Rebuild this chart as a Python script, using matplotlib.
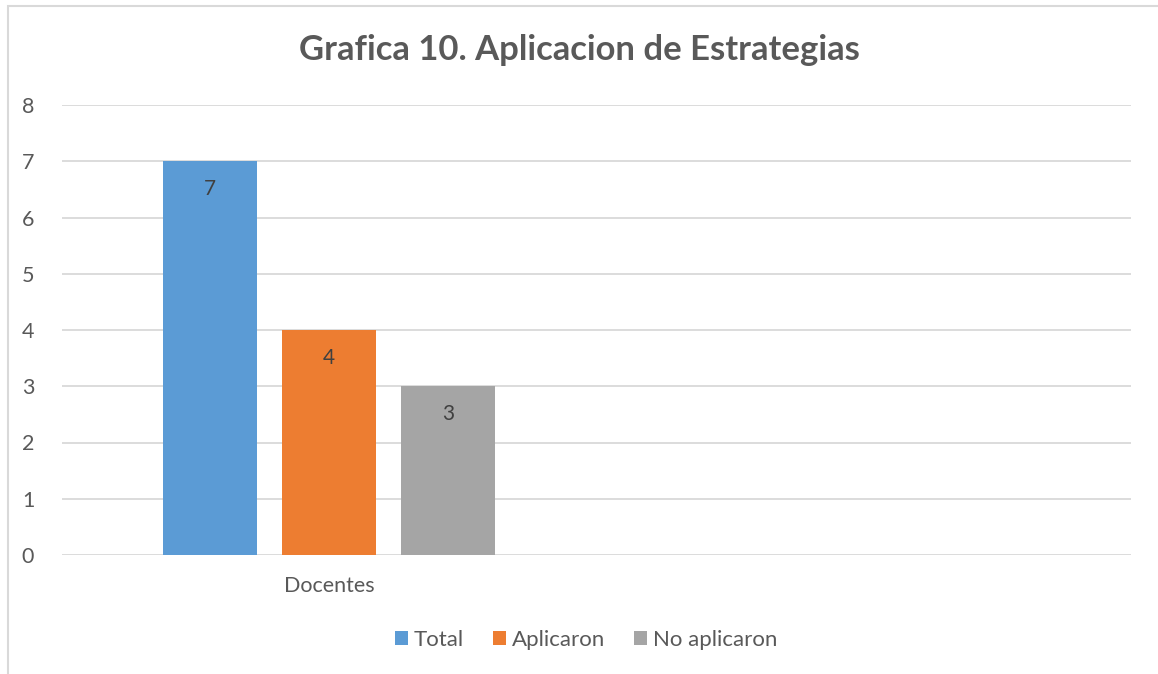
import matplotlib
matplotlib.use("Agg")
from matplotlib import pyplot as plt
from matplotlib.patches import Rectangle
import numpy as np

categories = ["Docentes", ""]
series = ["Total", "Aplicaron", "No aplicaron"]
total = [7, 0]
aplicaron = [4, 0]
no_aplicaron = [3, 0]
colors = ["#5b9bd5", "#ed7d31", "#a5a5a5"]
yticks = [0, 1, 2, 3, 4, 5, 6, 7, 8]

plt.rcParams["font.family"] = ["Lato", "DejaVu Sans"]

fig = plt.figure(figsize=(11.58, 6.74), dpi=100)
ax = fig.add_axes([62 / 1158, 1 - 555 / 674, 1069 / 1158, 450 / 674])

# border of the chart area
fig.patches.append(Rectangle((8 / 1158, -0.1), 1.2, 1 - 6 / 674 + 0.1, transform=fig.transFigure,
                             fill=False, edgecolor="#d9d9d9", linewidth=1.5))

x = np.arange(len(categories))
w = 0.176
offsets = [-0.223, 0.0, 0.222]
for vals, off, col, name in zip([total, aplicaron, no_aplicaron], offsets, colors, series):
    bars = ax.bar(x[:1] + off, vals[:1], width=w, color=col, label=name, zorder=3)
    for b, v in zip(bars, vals[:1]):
        ax.text(b.get_x() + b.get_width() / 2, v - 0.5, str(v), ha="center", va="center",
                fontsize=15, color="#404040", zorder=4)

ax.set_xlim(-0.5, 1.5)
ax.set_ylim(0, 8)
ax.set_yticks(yticks)
ax.set_xticks(x)
ax.set_xticklabels(categories)
ax.tick_params(axis="both", length=0, labelsize=15.5, labelcolor="#595959")
ax.tick_params(axis="x", pad=15)
ax.tick_params(axis="y", pad=20)
ax.grid(axis="y", color="#d9d9d9", linewidth=1.3, zorder=0)
for s in ax.spines.values():
    s.set_visible(False)

fig.text(0.5, 1 - 50 / 674, "Grafica 10. Aplicacion de Estrategias", ha="center", va="center",
         fontsize=24.9, fontweight="bold", color="#595959")

fig.legend(loc="center", bbox_to_anchor=(0.506, 1 - 640 / 674), ncol=3, frameon=False,
           fontsize=16, labelcolor="#595959", handlelength=0.6, handleheight=0.6,
           handletextpad=0.25, columnspacing=1.3)

fig.savefig("out.png", dpi=100)
